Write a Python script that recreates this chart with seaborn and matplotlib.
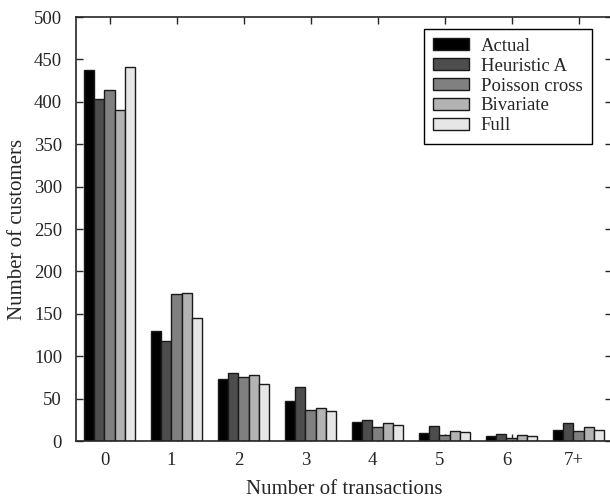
import numpy as np
import pandas as pd
import matplotlib
matplotlib.use('Agg')
import matplotlib.pyplot as plt
import matplotlib.transforms as mtransforms
import seaborn as sns

# DATA
categories = ['0', '1', '2', '3', '4', '5', '6', '7+']
actual = [437, 130, 73, 47, 22, 10, 6, 13]
heuristic_a = [403, 118, 80, 64, 25, 18, 8, 21]
poisson_cross = [414, 173, 75, 36, 16, 7, 3, 12]
bivariate = [390, 175, 78, 39, 21, 12, 7, 16]
full = [441, 145, 67, 35, 19, 11, 6, 13]

series_names = ['Actual', 'Heuristic A', 'Poisson cross', 'Bivariate', 'Full']
series_values = [actual, heuristic_a, poisson_cross, bivariate, full]
grey_colors = ['#000000', '#4d4d4d', '#808080', '#b3b3b3', '#e6e6e6']

df = pd.DataFrame({
    'transactions': np.tile(categories, len(series_names)),
    'model': np.repeat(series_names, len(categories)),
    'customers': np.concatenate(series_values),
})

sns.set_style('ticks')
plt.rcParams['font.family'] = ['Liberation Serif', 'DejaVu Serif']

fig = plt.figure(figsize=(6.10, 4.99), dpi=100)
ax = fig.add_axes([0.1246, 0.1162, 0.8787, 0.8497])

sns.barplot(data=df, x='transactions', y='customers', hue='model',
            order=categories, hue_order=series_names, palette=grey_colors,
            width=0.75, gap=0, edgecolor='#1a1a1a', linewidth=1.0,
            saturation=1, ax=ax)

ax.set_xlim(-0.5, 7.5)
ax.set_ylim(0, 500)
ax.set_yticks(np.arange(0, 501, 50))

ax.set_xlabel('Number of transactions', fontsize=15, labelpad=8)
ax.set_ylabel('Number of customers', fontsize=15, labelpad=5)

ax.tick_params(direction='in', top=True, right=True, length=5, width=1,
               labelsize=13.5)
ax.tick_params(axis='x', pad=8)
ax.tick_params(axis='y', pad=10)
for side in ['left', 'right', 'top', 'bottom']:
    ax.spines[side].set_linewidth(1.2)

# x tick labels sit a little to the left of the bar groups
shift = mtransforms.ScaledTranslation(-5 / 100, 0, fig.dpi_scale_trans)
for lbl in ax.get_xticklabels():
    lbl.set_transform(lbl.get_transform() + shift)

handles, labels = ax.get_legend_handles_labels()
leg = ax.legend(handles, labels, loc='upper right', bbox_to_anchor=(0.9627, 0.9725),
                fontsize=13.5, frameon=True, fancybox=False, framealpha=1,
                edgecolor='black', handlelength=1.9, handleheight=0.6,
                handletextpad=0.65, labelspacing=0.15, borderpad=0.5,
                borderaxespad=0)
leg.get_frame().set_linewidth(1.0)

fig.savefig('out.png', dpi=100)
